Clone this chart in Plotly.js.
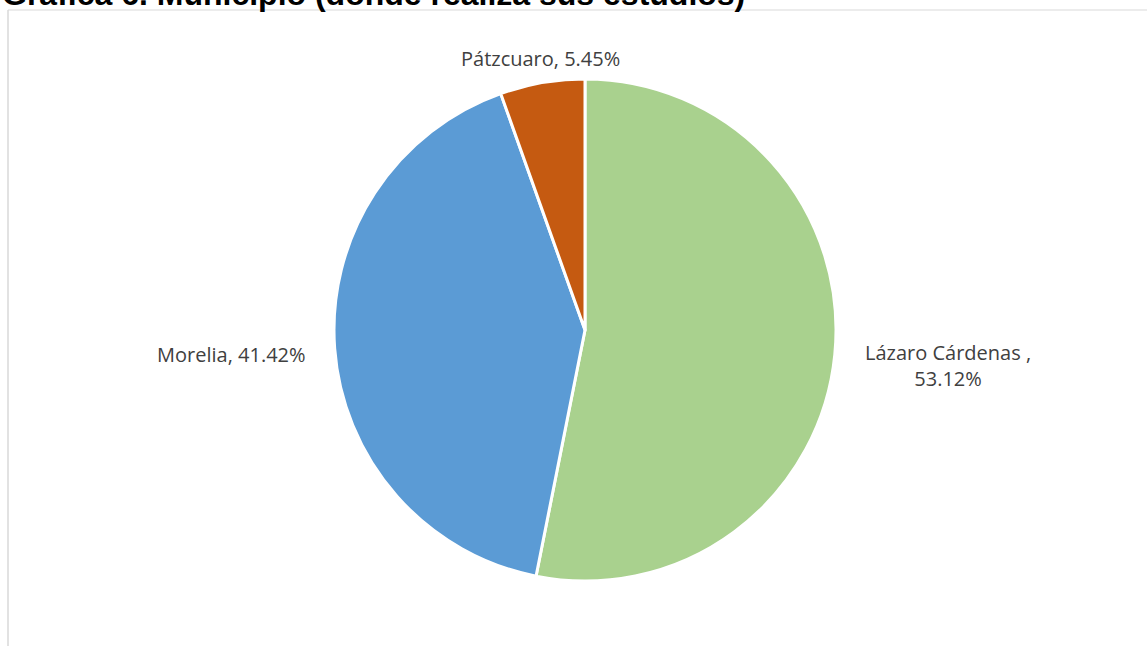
<!DOCTYPE html>
<html>
<head>
<meta charset="utf-8">
<script src="https://cdn.plot.ly/plotly-3.0.1.min.js"></script>
<style>html,body{margin:0;padding:0;background:#fff;}#chart{width:1147px;height:646px;}</style>
</head>
<body>
<div id="chart"></div>
<script>
var categories = ["Lázaro Cárdenas ", "Morelia", "Pátzcuaro"];
var percentages = [53.12, 41.42, 5.45];
var sliceColors = ["#A9D18E", "#5B9BD5", "#C55A11"];
var titleText = "Gráfica 6. Municipio (donde realiza sus estudios)";

var W = 1147, H = 646;
var cx = 585, cy = 330, R = 251;

// label box centres (pixels from top-left), layout only
var labelPos = [[948, 365], [231, 354], [540, 59]];
var labelBreak = [true, false, false];

var trace = {
  type: "pie",
  labels: categories,
  values: percentages,
  textinfo: "none",
  sort: false,
  direction: "clockwise",
  rotation: 0,
  marker: {colors: sliceColors, line: {color: "#ffffff", width: 3}},
  domain: {x: [(cx - R) / W, (cx + R) / W], y: [(H - cy - R) / H, (H - cy + R) / H]},
  hoverinfo: "none",
  automargin: false
};

var annotations = [
  {text: "<b>" + titleText + "</b>", xref: "paper", yref: "paper", x: 0, y: 1 - 14 / H, xanchor: "left", yanchor: "bottom", showarrow: false, font: {family: "Liberation Sans, Arial, sans-serif", size: 32, color: "#000000"}}
];
categories.forEach(function(c, i){
  var t = c + "," + (labelBreak[i] ? "<br>" : " ") + percentages[i].toFixed(2) + "%";
  annotations.push({
    text: t, xref: "paper", yref: "paper",
    x: labelPos[i][0] / W, y: 1 - labelPos[i][1] / H,
    xanchor: "center", yanchor: "middle", align: "center", showarrow: false,
    font: {family: "Open Sans, sans-serif", size: 20, color: "#404040"}
  });
});

var layout = {
  width: W, height: H,
  margin: {l: 0, r: 0, t: 0, b: 0},
  showlegend: false,
  paper_bgcolor: "#ffffff",
  shapes: [
    {type: "line", xref: "paper", yref: "paper", x0: 8 / W, x1: 1, y0: 1 - 10 / H, y1: 1 - 10 / H, line: {color: "#d9d9d9", width: 1}},
    {type: "line", xref: "paper", yref: "paper", x0: 8 / W, x1: 8 / W, y0: 0, y1: 1 - 10 / H, line: {color: "#d9d9d9", width: 1.5}}
  ],
  annotations: annotations
};

Plotly.newPlot("chart", [trace], layout, {displayModeBar: false, staticPlot: true});
</script>
</body>
</html>
